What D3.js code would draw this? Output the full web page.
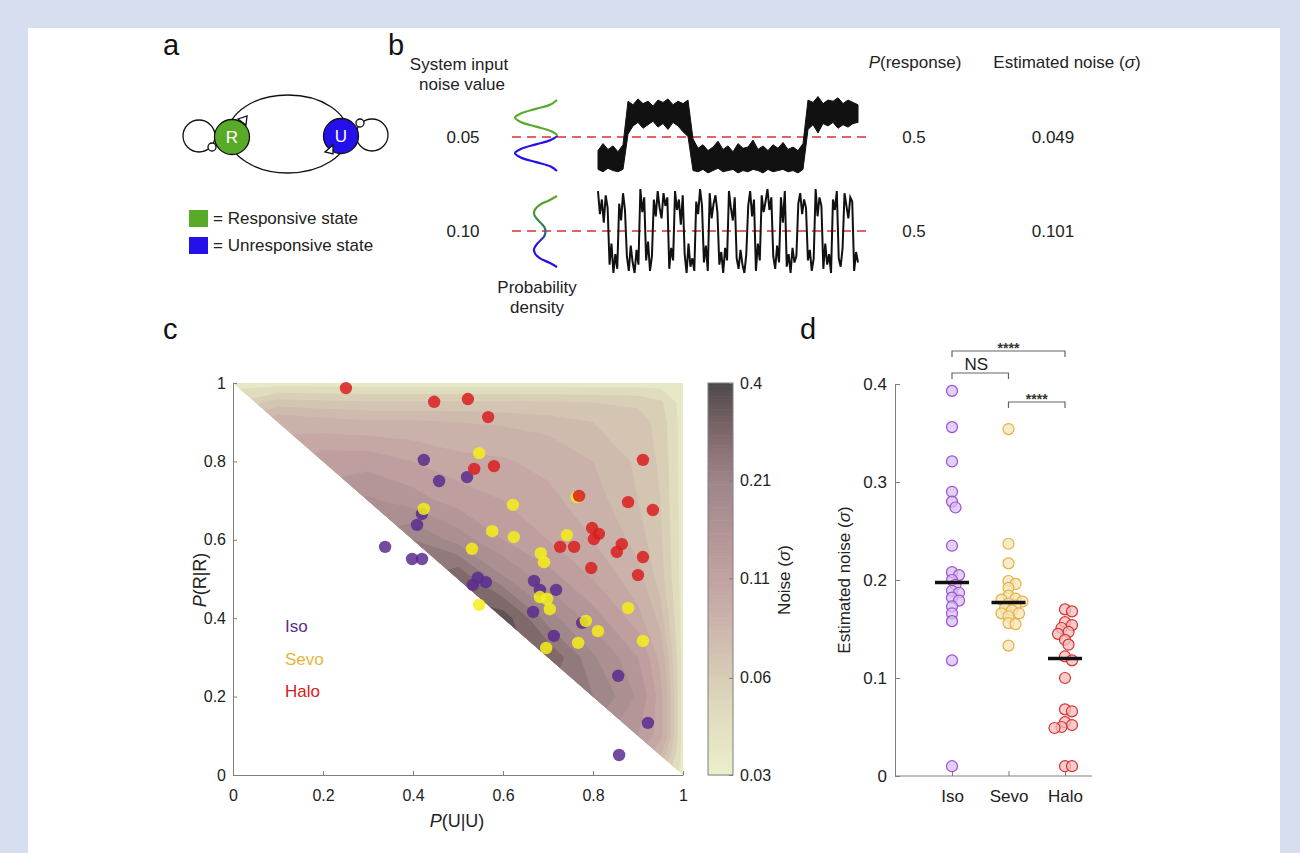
<!DOCTYPE html>
<html>
<head>
<meta charset="utf-8">
<script src="https://cdn.jsdelivr.net/npm/d3@7"></script>
<style>
body { margin: 0; background: #d6def0; }
svg { display: block; font-family: "Liberation Sans", Arial, sans-serif; }
.ax .domain, .ax .tick line { stroke: #7f7f7f; stroke-width: 1; }
.ax .tick text { font-family: "Liberation Sans", Arial, sans-serif; font-size: 16px; fill: #222; }
.dax .tick text { font-size: 17px; }
</style>
</head>
<body>
<svg id="fig" width="1300" height="853"></svg>
<script>
// ---- panel b ----
var noiseInputs = ["0.05", "0.10"]
var pResponse = ["0.5", "0.5"]
var noiseEstimates = ["0.049", "0.101"]
// probability density of the two states, top to bottom
var densityLow = [0.0, 0.15, 0.5, 0.85, 1.0, 0.85, 0.5, 0.15, 0.0, 0.15, 0.5, 0.85, 1.0, 0.85, 0.5, 0.15, 0.0]
var densityHigh = [0.0, 0.35, 0.75, 0.95, 1.0, 0.9, 0.72, 0.55, 0.5, 0.55, 0.72, 0.9, 1.0, 0.95, 0.75, 0.35, 0.0]
// trace for noise 0.05: upper / lower edge of the band (state units)
var traceLowUpper = [-0.6, -0.3, -0.55, -0.4, -0.65, -0.35,
    1.5, 1.35, 1.6, 1.4, 1.5, 1.3, 1.55, 1.45, 1.6, 1.35, 1.5, 1.4, 1.55,
    -0.1, -0.5, -0.35, -0.6, -0.45, -0.2, -0.55, -0.4, -0.65, -0.3, -0.5, -0.45, -0.15, -0.55, -0.4, -0.6, -0.35, -0.5, -0.25, -0.55, -0.45, -0.6, -0.3,
    1.55, 1.45, 1.7, 1.4, 1.55, 1.5, 1.65, 1.4, 1.55, 1.45, 1.35]
var traceLowLower = [-1.4, -1.5, -1.35, -1.45, -1.5, -1.4,
    0.1, 0.45, 0.6, 0.35, 0.5, 0.65, 0.4, 0.55, 0.3, 0.6, 0.45, 0.2, 0.0,
    -1.45, -1.5, -1.4, -1.55, -1.45, -1.35, -1.5, -1.45, -1.4, -1.55, -1.45, -1.5, -1.4, -1.45, -1.55, -1.4, -1.5, -1.45, -1.4, -1.5, -1.45, -1.55, -1.4,
    0.3, 0.5, 0.15, 0.55, 0.45, 0.6, 0.35, 0.5, 0.4, 0.55, 0.6]
// trace for noise 0.10 (state units)
var traceHigh = [1.9, 0.8, 1.5, 0.4, 1.7, 1.1, -1.6, -0.6, -2.0, -1.1, -1.8, 1.3, 0.5, 1.8, 1.0,
    -1.2, -1.9, -0.7, -1.5, -2.0, -0.9, -1.6, 2.0, 0.9, 1.6, -1.4, -0.5, -1.9, -1.2,
    1.5, 0.7, 1.9, 1.1, 0.6, 1.8, 1.2, 1.6, -1.8, -0.8, -1.4, 1.9, 1.0, 1.5, 0.3, 1.7,
    -1.1, -2.0, -0.6, -1.7, -1.3, -1.9, 1.4, 0.8, 2.0, 1.2, -1.5, -0.7, -1.9,
    1.8, 0.6, 1.3, 1.7, 0.9, -1.6, -1.0, -2.0, -0.8, -1.4, 1.9, 1.1, 0.5, 1.6,
    -1.3, -1.8, -0.9, -1.6, -2.0, -1.1, 1.2, 1.9, 0.7, 1.5, -1.9, -0.6, -1.4,
    1.7, 0.9, 1.4, 2.0, 1.0, 1.6, -1.2, -1.8, -0.7, -1.5, 1.6, 0.4, 1.9,
    -1.7, -1.1, -2.0, -0.8, -1.5, -1.2, 1.3, 1.8, 0.8, 1.5, 1.1, -1.4, -0.9, -1.9, -1.3,
    2.0, 0.7, 1.6, 1.2, -1.8, -0.6, -1.6, -1.1, -2.0, 1.5, 1.0, 1.9, -1.3, -1.7, -0.8,
    1.8, 1.2, 0.6, 1.6, 1.4, -1.9, -1.0, -1.5]

// ---- panel c ----
var isoPts = [[0.424, 0.804], [0.458, 0.75], [0.52, 0.76], [0.42, 0.666], [0.409, 0.638], [0.338, 0.582],
    [0.398, 0.551], [0.42, 0.551], [0.544, 0.503], [0.533, 0.485], [0.562, 0.492], [0.669, 0.495],
    [0.682, 0.472], [0.718, 0.472], [0.667, 0.416], [0.776, 0.388], [0.713, 0.355], [0.856, 0.253],
    [0.922, 0.133], [0.858, 0.051]]
var sevoPts = [[0.547, 0.821], [0.622, 0.689], [0.424, 0.679], [0.576, 0.622], [0.624, 0.607], [0.742, 0.612],
    [0.531, 0.577], [0.684, 0.566], [0.691, 0.543], [0.764, 0.709], [0.682, 0.454], [0.698, 0.449],
    [0.704, 0.423], [0.878, 0.426], [0.784, 0.393], [0.811, 0.367], [0.767, 0.337], [0.911, 0.342],
    [0.696, 0.324], [0.547, 0.434]]
var haloPts = [[0.251, 0.987], [0.447, 0.952], [0.522, 0.959], [0.567, 0.913], [0.911, 0.804], [0.536, 0.781],
    [0.58, 0.788], [0.769, 0.712], [0.878, 0.696], [0.933, 0.676], [0.798, 0.63], [0.813, 0.615],
    [0.802, 0.602], [0.727, 0.582], [0.758, 0.582], [0.864, 0.589], [0.853, 0.569], [0.911, 0.556],
    [0.796, 0.528], [0.9, 0.51]]
var cTicks = [0, 0.2, 0.4, 0.6, 0.8, 1]
var gridX = [0, 0.1, 0.2, 0.3, 0.4, 0.5, 0.6, 0.7, 0.8, 0.9, 0.95, 1]
var gridY = [1, 0.95, 0.9, 0.8, 0.7, 0.6, 0.5, 0.4, 0.3, 0.2, 0.1, 0.05, 0]
var noiseGrid = [
    [0.035, 0.035, 0.035, 0.035, 0.035, 0.035, 0.035, 0.035, 0.035, 0.035, 0.035, 0.032],
    [0.05, 0.065, 0.063, 0.062, 0.062, 0.062, 0.062, 0.061, 0.06, 0.058, 0.052, 0.035],
    [0.07, 0.09, 0.085, 0.082, 0.082, 0.08, 0.078, 0.075, 0.07, 0.065, 0.056, 0.035],
    [0.09, 0.105, 0.12, 0.12, 0.11, 0.1, 0.097, 0.09, 0.08, 0.068, 0.058, 0.035],
    [0.105, 0.12, 0.14, 0.16, 0.14, 0.12, 0.11, 0.1, 0.085, 0.07, 0.06, 0.035],
    [0.12, 0.14, 0.16, 0.19, 0.22, 0.17, 0.13, 0.11, 0.095, 0.075, 0.062, 0.035],
    [0.14, 0.16, 0.19, 0.22, 0.26, 0.3, 0.19, 0.14, 0.11, 0.085, 0.065, 0.035],
    [0.16, 0.19, 0.22, 0.26, 0.3, 0.32, 0.34, 0.2, 0.14, 0.1, 0.075, 0.035],
    [0.19, 0.22, 0.26, 0.3, 0.32, 0.34, 0.32, 0.3, 0.19, 0.13, 0.09, 0.035],
    [0.22, 0.26, 0.3, 0.32, 0.34, 0.32, 0.3, 0.26, 0.22, 0.15, 0.1, 0.035],
    [0.26, 0.3, 0.32, 0.34, 0.32, 0.3, 0.26, 0.22, 0.17, 0.13, 0.1, 0.035],
    [0.28, 0.31, 0.33, 0.33, 0.31, 0.28, 0.24, 0.2, 0.15, 0.11, 0.08, 0.035],
    [0.3, 0.32, 0.34, 0.32, 0.3, 0.26, 0.22, 0.17, 0.13, 0.08, 0.06, 0.035]]
var contourLevels = [0.03, 0.04, 0.05, 0.06, 0.07, 0.08, 0.095, 0.11, 0.13, 0.155, 0.185, 0.22, 0.26, 0.31]
var noiseStops = [0.03, 0.045, 0.06, 0.08, 0.11, 0.15, 0.21, 0.3, 0.4]
var noiseColors = ["#ebeecb", "#e0dcbe", "#d6c9b4", "#cdb6ac", "#c2a2a2", "#b29496", "#9e8588", "#7a6466", "#4c484b"]
var cbarTicks = [0.03, 0.057, 0.11, 0.21, 0.4]
var cbarLabels = ["0.03", "0.06", "0.11", "0.21", "0.4"]

// ---- panel d ----
var groups = ["Iso", "Sevo", "Halo"]
var isoNoise = [0.393, 0.356, 0.321, 0.290, 0.280, 0.274, 0.235, 0.208, 0.205, 0.200, 0.195, 0.189, 0.187, 0.182, 0.179, 0.173, 0.166, 0.158, 0.118, 0.010]
var sevoNoise = [0.354, 0.237, 0.217, 0.199, 0.196, 0.192, 0.184, 0.181, 0.180, 0.178, 0.176, 0.174, 0.171, 0.169, 0.166, 0.166, 0.163, 0.156, 0.155, 0.133]
var haloNoise = [0.170, 0.168, 0.157, 0.154, 0.151, 0.147, 0.145, 0.139, 0.134, 0.122, 0.118, 0.100, 0.068, 0.066, 0.055, 0.052, 0.050, 0.049, 0.010, 0.010]
var dTicks = [0, 0.1, 0.2, 0.3, 0.4]
var sigPairs = [["Iso", "Halo", "****"], ["Iso", "Sevo", "NS"], ["Sevo", "Halo", "****"]]

var green = "#5aaa2a", blue = "#2410ea"
var svg = d3.select("#fig")

svg.append("rect").attr("x", 28).attr("y", 28).attr("width", 1252).attr("height", 830).attr("fill", "#fff")

// panel letters
;[["a", 163, 55], ["b", 388, 55], ["c", 163, 339], ["d", 800, 339]].forEach(d => {
    svg.append("text").attr("x", d[1]).attr("y", d[2]).attr("font-size", 29).attr("fill", "#111").text(d[0])
})

function label(g, x, y, parts, size, anchor) {
    var t = g.append("text").attr("x", x).attr("y", y).attr("font-size", size || 17)
        .attr("fill", "#222").attr("text-anchor", anchor || "middle")
    parts.forEach(p => {
        var s = t.append("tspan").text(p[0])
        if (p[1]) s.attr("font-style", "italic")
    })
    return t
}

// ================= panel a =================
var ga = svg.append("g").attr("fill", "none").attr("stroke", "#111").attr("stroke-width", 1.3)
ga.append("ellipse").attr("cx", 288).attr("cy", 134).attr("rx", 60).attr("ry", 39)
ga.append("circle").attr("cx", 199).attr("cy", 136).attr("r", 16)
ga.append("circle").attr("cx", 372).attr("cy", 135).attr("r", 16)
ga.append("circle").attr("cx", 232).attr("cy", 137).attr("r", 17.5).attr("fill", green)
ga.append("circle").attr("cx", 341).attr("cy", 136).attr("r", 17.5).attr("fill", blue)
ga.append("circle").attr("cx", 212).attr("cy", 147).attr("r", 4).attr("fill", "#fff")
ga.append("circle").attr("cx", 360).attr("cy", 123).attr("r", 4).attr("fill", "#fff")
ga.append("polygon").attr("points", "238,119 247,116 246,125").attr("fill", "#fff")
ga.append("polygon").attr("points", "333,145 333,154 325,152").attr("fill", "#fff")
svg.append("text").attr("x", 232).attr("y", 143).attr("text-anchor", "middle").attr("font-size", 17).attr("fill", "#fff").text("R")
svg.append("text").attr("x", 341).attr("y", 142).attr("text-anchor", "middle").attr("font-size", 17).attr("fill", "#fff").text("U")
svg.append("rect").attr("x", 189).attr("y", 210).attr("width", 19).attr("height", 17).attr("fill", green)
svg.append("rect").attr("x", 189).attr("y", 237).attr("width", 19).attr("height", 17).attr("fill", blue)
label(svg, 213, 224, [["= Responsive  state"]], 17, "start")
label(svg, 213, 251, [["= Unresponsive  state"]], 17, "start")

// ================= panel b =================
label(svg, 459, 70, [["System input"]], 17)
label(svg, 462, 90, [["noise value"]], 17)
label(svg, 537, 293, [["Probability"]], 17)
label(svg, 537, 313, [["density"]], 17)
label(svg, 915, 68, [["P", 1], ["(response)"]], 17)
label(svg, 1067, 68, [["Estimated  noise ("], ["\u03c3", 1], [")"]], 17)

var rowY = [137, 231]
rowY.forEach((y, i) => {
    label(svg, 463, y + 6, [[noiseInputs[i]]], 17)
    label(svg, 914, y + 6, [[pResponse[i]]], 17)
    label(svg, 1053, y + 6, [[noiseEstimates[i]]], 17)
    svg.append("line").attr("x1", 512).attr("x2", 866).attr("y1", y).attr("y2", y)
        .attr("stroke", "#d83030").attr("stroke-width", 1.6).attr("stroke-dasharray", "9,6")
})

var defs = svg.append("defs")
var gl = defs.append("linearGradient").attr("id", "gLow").attr("x1", 0).attr("y1", 0).attr("x2", 0).attr("y2", 1)
;[[0, green], [0.5, green], [0.5, blue], [1, blue]].forEach(s => gl.append("stop").attr("offset", s[0]).attr("stop-color", s[1]))
var gh = defs.append("linearGradient").attr("id", "gHigh").attr("x1", 0).attr("y1", 0).attr("x2", 0).attr("y2", 1)
;[[0, green], [0.3, "#3f8f35"], [0.5, "#2a6a78"], [0.68, blue], [1, blue]].forEach(s => gh.append("stop").attr("offset", s[0]).attr("stop-color", s[1]))

function densityPath(vals, top, amp) {
    var t = d3.scaleLinear().domain([0, vals.length - 1]).range([top, top + 71])
    return d3.line().x(v => 557 - v * amp).y((v, i) => t(i)).curve(d3.curveCatmullRom)(vals)
}
svg.append("path").attr("d", densityPath(densityLow, 100, 42)).attr("fill", "none").attr("stroke", "url(#gLow)").attr("stroke-width", 2.2)
svg.append("path").attr("d", densityPath(densityHigh, 196, 23)).attr("fill", "none").attr("stroke", "url(#gHigh)").attr("stroke-width", 2.2)

// trace, noise 0.05
var tx1 = d3.scaleLinear().domain([0, traceLowUpper.length - 1]).range([598, 858])
var ty1 = d3.scaleLinear().domain([-1, 1]).range([160, 113])
svg.append("path").datum(d3.range(traceLowUpper.length))
    .attr("d", d3.area().x(i => tx1(i)).y0(i => ty1(traceLowLower[i])).y1(i => ty1(traceLowUpper[i])))
    .attr("fill", "#111").attr("stroke", "#111").attr("stroke-width", 1)

// trace, noise 0.10
var tx2 = d3.scaleLinear().domain([0, traceHigh.length - 1]).range([598, 858])
var ty2 = d3.scaleLinear().domain([-1, 1]).range([252, 210])
svg.append("path").datum(traceHigh)
    .attr("d", d3.line().x((v, i) => tx2(i)).y(v => ty2(v)))
    .attr("fill", "none").attr("stroke", "#111").attr("stroke-width", 2)

// ================= panel c =================
var cx = d3.scaleLinear().domain([0, 1]).range([233, 683])
var cy = d3.scaleLinear().domain([0, 1]).range([775, 383])
var noiseColor = d3.scaleLog().domain(noiseStops).range(noiseColors).interpolate(d3.interpolateRgb)

defs.append("clipPath").attr("id", "tri").append("polygon")
    .attr("points", [[cx(0), cy(1)], [cx(1), cy(1)], [cx(1), cy(0)]].map(p => p.join(",")).join(" "))

var nx = gridX.length, ny = gridY.length
var flat = [].concat.apply([], noiseGrid)
var gxs = d3.scaleLinear().domain(d3.range(nx).map(i => i + 0.5)).range(gridX).clamp(true)
var gys = d3.scaleLinear().domain(d3.range(ny).map(i => i + 0.5)).range(gridY).clamp(true)
var bands = d3.contours().size([nx, ny]).thresholds(contourLevels)(flat)
var proj = d3.geoTransform({ point: function (x, y) { this.stream.point(cx(gxs(x)), cy(gys(y))) } })
var gpath = d3.geoPath(proj)

svg.append("g").attr("clip-path", "url(#tri)")
    .selectAll("path").data(bands).enter().append("path")
    .attr("d", gpath)
    .attr("fill", (d, i) => noiseColor(i < contourLevels.length - 1 ? Math.sqrt(d.value * contourLevels[i + 1]) : d.value * 1.15))

var cax = svg.append("g").attr("class", "ax").attr("transform", "translate(233,0)")
    .call(d3.axisLeft(cy).tickValues(cTicks).tickFormat(d => String(d)).tickSize(-4).tickSizeOuter(0).tickPadding(7))
var cbx = svg.append("g").attr("class", "ax").attr("transform", "translate(0,775)")
    .call(d3.axisBottom(cx).tickValues(cTicks).tickFormat(d => String(d)).tickSize(-4).tickSizeOuter(0).tickPadding(15))

label(svg, 457, 827, [["P", 1], ["(U|U)"]], 18)
label(svg, 0, 0, [["P", 1], ["(R|R)"]], 18).attr("transform", "translate(206,580) rotate(-90)")

var groupCols = { Iso: "#5b2b8f", Sevo: "#f4ef1a", Halo: "#d91f1f" }
;[["Iso", isoPts], ["Sevo", sevoPts], ["Halo", haloPts]].forEach(g => {
    svg.append("g").selectAll("circle").data(g[1]).enter().append("circle")
        .attr("cx", d => cx(d[0])).attr("cy", d => cy(d[1])).attr("r", 6.2)
        .attr("fill", groupCols[g[0]]).attr("fill-opacity", 0.85)
})
var legCols = { Iso: "#5a2d8c", Sevo: "#e8b53a", Halo: "#d42020" }
groups.forEach((g, i) => {
    svg.append("text").attr("x", 285).attr("y", 632 + i * 32.5).attr("font-size", 17)
        .attr("fill", legCols[g]).text(g)
})

// colorbar
var cb = d3.scaleLog().domain([0.03, 0.4]).range([775, 383])
var cbSteps = d3.range(120)
svg.append("g").selectAll("rect").data(cbSteps).enter().append("rect")
    .attr("x", 708).attr("width", 25)
    .attr("y", i => 383 + i * 392 / 120).attr("height", 392 / 120 + 0.6)
    .attr("fill", i => noiseColor(cb.invert(383 + (i + 0.5) * 392 / 120)))
svg.append("rect").attr("x", 708).attr("y", 383).attr("width", 25).attr("height", 392)
    .attr("fill", "none").attr("stroke", "#7f7f7f")
svg.append("g").attr("class", "ax").attr("transform", "translate(733,0)")
    .call(d3.axisRight(cb).tickValues(cbarTicks).tickFormat((d, i) => cbarLabels[i]).tickSize(-4).tickSizeOuter(0).tickPadding(7))
    .select(".domain").remove()
label(svg, 0, 0, [["Noise ("], ["\u03c3", 1], [")"]], 17).attr("transform", "translate(790,580) rotate(-90)")

// ================= panel d =================
var dy = d3.scaleLinear().domain([0, 0.4]).range([776, 384])
var dx = d3.scalePoint().domain(groups).range([952, 1065])

svg.append("g").attr("class", "ax dax").attr("transform", "translate(895,0)")
    .call(d3.axisLeft(dy).tickValues(dTicks).tickFormat(d => String(d)).tickSize(-5).tickSizeOuter(0).tickPadding(8))
var dbx = svg.append("g").attr("class", "ax dax").attr("transform", "translate(0,776)")
    .call(d3.axisBottom(dx).tickSize(-5).tickSizeOuter(0).tickPadding(14))
dbx.select(".domain").remove()
svg.append("line").attr("x1", 895).attr("x2", 1092).attr("y1", 776).attr("y2", 776).attr("stroke", "#7f7f7f")
label(svg, 0, 0, [["Estimated noise ("], ["\u03c3", 1], [")"]], 17).attr("transform", "translate(850,580) rotate(-90)")

function dodge(vals, minD, step) {
    var placed = [], offs = new Array(vals.length)
    var order = d3.range(vals.length).sort((a, b) => vals[b] - vals[a])
    order.forEach(i => {
        var py = dy(vals[i])
        offs[i] = 0
        for (var k = 0; k < 30; k++) {
            var off = (k % 2 ? 1 : -1) * Math.ceil(k / 2) * step
            if (placed.every(p => Math.hypot(p[0] - off, p[1] - py) >= minD)) { offs[i] = off; break }
        }
        placed.push([offs[i], py])
    })
    return offs
}

var dStyle = {
    Iso: { stroke: "#9b4fd6", fill: "#d8bff0" },
    Sevo: { stroke: "#e6b13c", fill: "#f6e4bb" },
    Halo: { stroke: "#d93030", fill: "#f2bcbc" }
}
;[["Iso", isoNoise], ["Sevo", sevoNoise], ["Halo", haloNoise]].forEach(g => {
    var offs = dodge(g[1], 6, 3.5)
    svg.append("g").selectAll("circle").data(g[1]).enter().append("circle")
        .attr("cx", (d, i) => dx(g[0]) + offs[i]).attr("cy", d => dy(d)).attr("r", 5.5)
        .attr("fill", dStyle[g[0]].fill).attr("fill-opacity", 0.75)
        .attr("stroke", dStyle[g[0]].stroke).attr("stroke-width", 1.2)
    var m = d3.median(g[1])
    svg.append("line").attr("x1", dx(g[0]) - 17).attr("x2", dx(g[0]) + 17)
        .attr("y1", dy(m)).attr("y2", dy(m)).attr("stroke", "#111").attr("stroke-width", 3.5)
})

// significance brackets
var bracketY = [351, 373, 402]
sigPairs.forEach((p, i) => {
    var x1 = dx(p[0]), x2 = dx(p[1]), y = bracketY[i]
    svg.append("path").attr("d", "M" + x1 + "," + (y + 6) + "V" + y + "H" + x2 + "V" + (y + 6))
        .attr("fill", "none").attr("stroke", "#666").attr("stroke-width", 1.2)
    if (p[2] == "NS")
        label(svg, (x1 + x2) / 2 - 4, y - 3, [["NS"]], 17)
    else
        label(svg, (x1 + x2) / 2, y + 2, [[p[2]]], 14).attr("fill", "#333").attr("font-weight", "bold")
})
</script>
</body>
</html>
